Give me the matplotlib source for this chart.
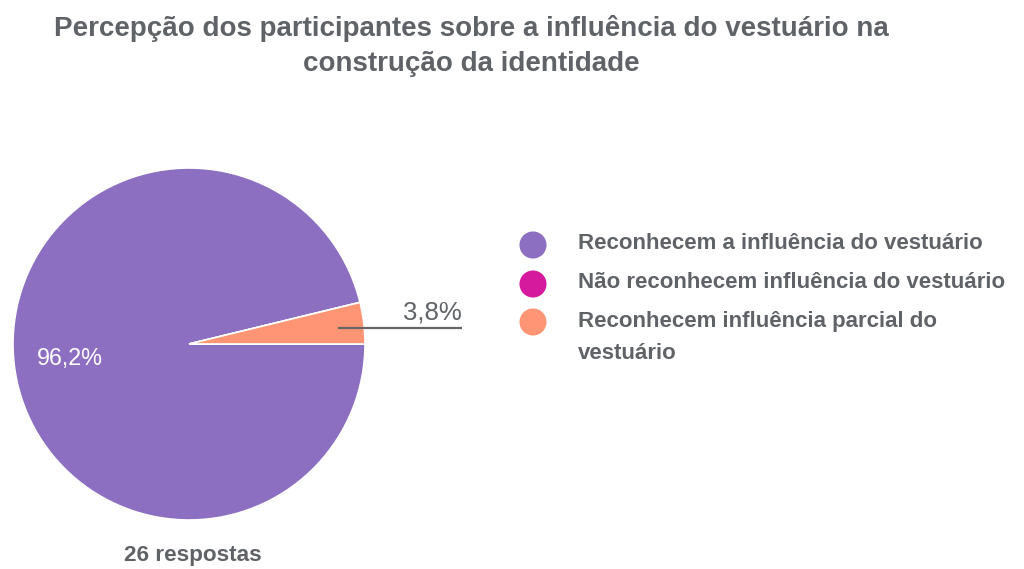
import matplotlib as mpl
mpl.use("Agg")
import matplotlib.pyplot as plt
import numpy as np

# --- Dados ---
categorias = [
    "Reconhecem a influência do vestuário",
    "Não reconhecem influência do vestuário",
    "Reconhecem influência parcial do\nvestuário",
]
valores = [96.2, 0.0, 3.8]
cores = ["#8C6FC1", "#D61A9E", "#FF9575"]
titulo = "Percepção dos participantes sobre a influência do vestuário na\nconstrução da identidade"
rodape = "26 respostas"

TXT = "#5f6368"
plt.rcParams["font.family"] = ["Liberation Sans", "DejaVu Sans"]

W, H = 1024, 569
fig = plt.figure(figsize=(W / 100, H / 100), dpi=100)
fig.patch.set_facecolor("white")

# eixo da pizza (posição em pixels)
cx, cy, r = 189, 344, 176
ax = fig.add_axes([(cx - r) / W, (H - cy - r) / H, 2 * r / W, 2 * r / H])
ax.set_xlim(-1, 1)
ax.set_ylim(-1, 1)
ax.set_aspect("equal")
ax.axis("off")

wedges, _ = ax.pie(
    valores,
    colors=cores,
    startangle=0,
    counterclock=False,
    radius=1,
    wedgeprops=dict(edgecolor="white", linewidth=1.2),
)
ax.set_xlim(-1, 1)
ax.set_ylim(-1, 1)

# rótulos percentuais
for w, v in zip(wedges, valores):
    if v <= 0:
        continue
    ang = np.deg2rad((w.theta1 + w.theta2) / 2)
    txt = f"{v:.1f}%".replace(".", ",")
    if v > 50:
        ax.text(0.68 * np.cos(ang), 0.68 * np.sin(ang), txt, color="white",
                fontsize=16.8, ha="center", va="center")
    else:
        x0, y0 = 0.85 * np.cos(ang), 0.85 * np.sin(ang) - 0.01
        x1 = 1.55
        ax.plot([x0, x1], [y0, y0], color="#666666", lw=1.6, clip_on=False,
                solid_capstyle="butt")
        ax.text(x1, y0 + 0.02, txt, color=TXT, fontsize=18.5, ha="right", va="bottom")

# camada de sobreposição em pixels
ov = fig.add_axes([0, 0, 1, 1])
ov.set_xlim(0, W)
ov.set_ylim(H, 0)
ov.axis("off")
ov.patch.set_alpha(0)

ov.text(471, 46, titulo, ha="center", va="center", fontsize=20, fontweight="bold",
        color=TXT, linespacing=1.42)

ys = [245, 284, 322]
for y, lab, c in zip(ys, categorias, cores):
    ov.scatter([533], [y], s=380, color=c, edgecolors="none")
    if "\n" in lab:
        ov.text(578, y - 11, lab, ha="left", va="top", fontsize=16, fontweight="bold",
                color=TXT, linespacing=1.68)
    else:
        ov.text(578, y - 2, lab, ha="left", va="center", fontsize=16,
                fontweight="bold", color=TXT)

ov.text(193, 556, rodape, ha="center", va="center", fontsize=16.2,
        fontweight="bold", color=TXT)

fig.savefig("out.png", dpi=100)
